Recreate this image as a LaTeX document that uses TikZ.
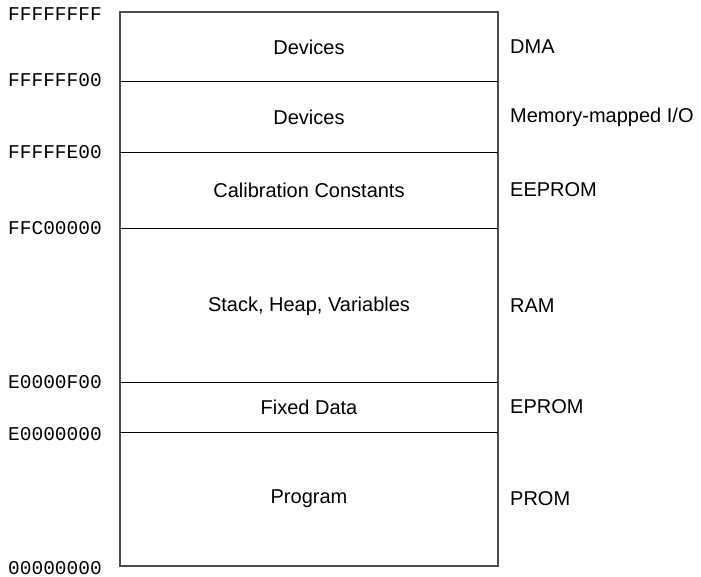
\documentclass[tikz,border=0pt]{standalone}
\usepackage{fontspec}
\setmainfont{Liberation Sans}
\newfontfamily\addrfont{Liberation Mono}
\usetikzlibrary{positioning}

\begin{document}
\begin{tikzpicture}[
    x=1pt, y=-1pt,
    region/.style={font=\fontsize{20}{24}\selectfont, inner sep=0pt},
    kind/.style={font=\fontsize{20}{24}\selectfont, anchor=west, inner sep=0pt},
    addr/.style={font=\addrfont\fontsize{19.5}{24}\selectfont, anchor=east, inner sep=0pt},
    border/.style={draw=black!70, line width=1.2pt},
    divider/.style={draw=black, line width=0.9pt}
]
    \useasboundingbox (0,0) rectangle (701,577);

    % Memory map outline
    \coordinate (top) at (120,12);
    \coordinate (bot) at (498,566);
    \draw[border] (top) rectangle (bot);

    % Boundaries between regions
    \foreach \y/\name in {81/b1, 152/b2, 228/b3, 382/b4, 432/b5} {
        \coordinate (\name w) at (120,\y);
        \coordinate (\name e) at (498,\y);
        \draw[divider] (\name w) -- (\name e);
    }

    % Regions
    \node[region] (dev1) at (309,47) {Devices};
    \node[region] (dev2) at (309,117) {Devices};
    \node[region] (calib) at (309,190) {Calibration Constants};
    \node[region] (stack) at (309,306) {Stack, Heap, Variables};
    \node[region] (fixed) at (309,407) {Fixed Data};
    \node[region] (prog) at (309,499) {Program};

    % Memory kinds
    \node[kind] (dma) at (510,47) {DMA};
    \node[kind] (mmio) at (510,117) {Memory-mapped I/O};
    \node[kind] (eeprom) at (510,190) {EEPROM};
    \node[kind] (ram) at (510,306) {RAM};
    \node[kind] (eprom) at (510,407) {EPROM};
    \node[kind] (prom) at (510,499) {PROM};

    % Addresses
    \node[addr] (a7) at (102,14) {FFFFFFFF};
    \node[addr] (a6) at (102,80) {FFFFFF00};
    \node[addr] (a5) at (102,152) {FFFFFE00};
    \node[addr] (a4) at (102,228) {FFC00000};
    \node[addr] (a3) at (102,382) {E0000F00};
    \node[addr] (a2) at (102,434) {E0000000};
    \node[addr] (a1) at (102,568) {00000000};
\end{tikzpicture}
\end{document}
